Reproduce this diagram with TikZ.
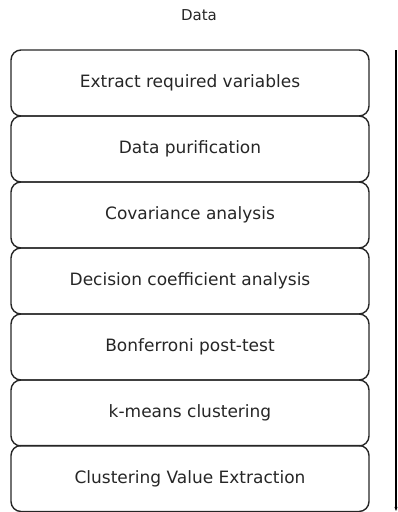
\documentclass[tikz,border=0pt]{standalone}
\usepackage{fontspec}
\setmainfont{DejaVu Sans}
\usetikzlibrary{arrows.meta}
\begin{document}
\begin{tikzpicture}[x=1pt,y=-1pt,
  stepbox/.style={draw=black!85,line width=1.4pt,rounded corners=10pt,minimum width=358pt,minimum height=66pt,inner sep=0pt,font=\fontsize{17}{19}\selectfont,text=black!85},
  lbl/.style={font=\fontsize{15}{17}\selectfont,text=black!85}]
\useasboundingbox (0,0) rectangle (398,512);
\node[lbl] (data) at (199,15) {Data};
\node[stepbox] (b1) at (190,83) {Extract required variables};
\node[stepbox] (b2) at (190,149) {Data purification};
\node[stepbox] (b3) at (190,215) {Covariance analysis};
\node[stepbox] (b4) at (190,281) {Decision coefficient analysis};
\node[stepbox] (b5) at (190,347) {Bonferroni post-test};
\node[stepbox] (b6) at (190,413) {k-means clustering};
\node[stepbox] (b7) at (190,478.5) {Clustering Value Extraction};
\coordinate (a1) at (396,50);
\coordinate (a2) at (396,511);
\draw[line width=1.3pt,-{Stealth[length=4pt,width=3pt]}] (a1) -- (a2);
\end{tikzpicture}
\end{document}
